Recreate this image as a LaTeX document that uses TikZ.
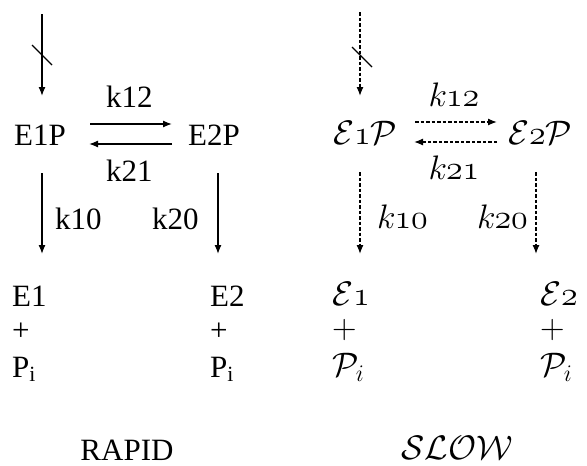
\RequirePackage{fix-cm}
\documentclass[tikz,border=0pt]{standalone}
\usepackage{fontspec}
\setmainfont{Liberation Serif}
\usetikzlibrary{arrows.meta}
\newcommand\osf[1]{{\usefont{OML}{cmm}{m}{it}#1}}
\newcommand\calE{$\mathcal{E}$}
\newcommand\calP{$\mathcal{P}$}
\begin{document}
\begin{tikzpicture}[x=1pt,y=-1pt,
  txt/.style={anchor=base west,inner sep=0pt,font=\fontsize{31}{36}\selectfont},
  ctxt/.style={anchor=base,inner sep=0pt,font=\fontsize{31}{36}\selectfont},
  rtxt/.style={anchor=base west,inner sep=0pt,font=\fontsize{34}{40}\selectfont},
  rctxt/.style={anchor=base,inner sep=0pt,font=\fontsize{34}{40}\selectfont},
  arr/.style={line width=1.3pt,-{Latex[length=9pt,width=7pt]}},
  darr/.style={arr,dash pattern=on 3.5pt off 2pt},
  slash/.style={line width=1.2pt}]
\useasboundingbox (0,0) rectangle (587,466);
% ---------------- RAPID ----------------
\node[txt] (E1P) at (14,145) {E1P};
\node[txt] (E2P) at (188,145) {E2P};
\node[txt] (k12) at (106,107) {k12};
\node[txt] (k21) at (106,181) {k21};
\node[txt] (k10) at (55,229) {k10};
\node[txt] (k20) at (152,229) {k20};
\node[txt] (E1) at (12,306) {E1};
\node[txt] (plusA) at (12,340) {+};
\node[txt] (PA) at (12,377) {P\textsubscript{i}};
\node[txt] (E2) at (210,306) {E2};
\node[txt] (plusB) at (210,340) {+};
\node[txt] (PB) at (210,377) {P\textsubscript{i}};
\node[ctxt] (rapid) at (127,460) {RAPID};
\coordinate (a0) at (42,14);
\coordinate (a1) at (42,96);
\coordinate (s0) at (32,45);
\coordinate (s1) at (52,65);
\coordinate (f0) at (90,124);
\coordinate (f1) at (172,124);
\coordinate (b0) at (172,144);
\coordinate (b1) at (89,144);
\coordinate (d10) at (42,173);
\coordinate (d11) at (42,254);
\coordinate (d20) at (218,173);
\coordinate (d21) at (218,254);
\draw[arr] (a0) -- (a1);
\draw[slash] (s0) -- (s1);
\draw[arr] (f0) -- (f1);
\draw[arr] (b0) -- (b1);
\draw[arr] (d10) -- (d11);
\draw[arr] (d20) -- (d21);
% ---------------- SLOW ----------------
\node[rtxt] (cE1P) at (333,144) {\calE\osf{1}\calP};
\node[rtxt] (cE2P) at (508,144) {\calE\osf{2}\calP};
\node[rctxt] (ck12) at (454,106) {\osf{k12}};
\node[rctxt] (ck21) at (454,179) {\osf{k21}};
\node[rtxt] (ck10) at (377,228) {\osf{k10}};
\node[rtxt,anchor=base east] (ck20) at (528,228) {\osf{k20}};
\node[rtxt] (cE1) at (332,305) {\calE\osf{1}};
\node[rtxt] (cplusA) at (332,338) {$+$};
\node[rtxt] (cPA) at (332,376) {$\mathcal{P}_i$};
\node[rtxt] (cE2) at (540,305) {\calE\osf{2}};
\node[rtxt] (cplusB) at (540,338) {$+$};
\node[rtxt] (cPB) at (540,376) {$\mathcal{P}_i$};
\node[rctxt] (slow) at (457,459) {$\mathcal{SLOW}$};
\coordinate (ca0) at (360,12);
\coordinate (ca1) at (360,96);
\coordinate (cs0) at (352,47);
\coordinate (cs1) at (372,67);
\coordinate (cf0) at (415,122);
\coordinate (cf1) at (497,122);
\coordinate (cb0) at (497,142);
\coordinate (cb1) at (414,142);
\coordinate (cd10) at (360,172);
\coordinate (cd11) at (360,254);
\coordinate (cd20) at (536,172);
\coordinate (cd21) at (536,254);
\draw[darr] (ca0) -- (ca1);
\draw[slash] (cs0) -- (cs1);
\draw[darr] (cf0) -- (cf1);
\draw[darr] (cb0) -- (cb1);
\draw[darr] (cd10) -- (cd11);
\draw[darr] (cd20) -- (cd21);
\end{tikzpicture}
\end{document}
